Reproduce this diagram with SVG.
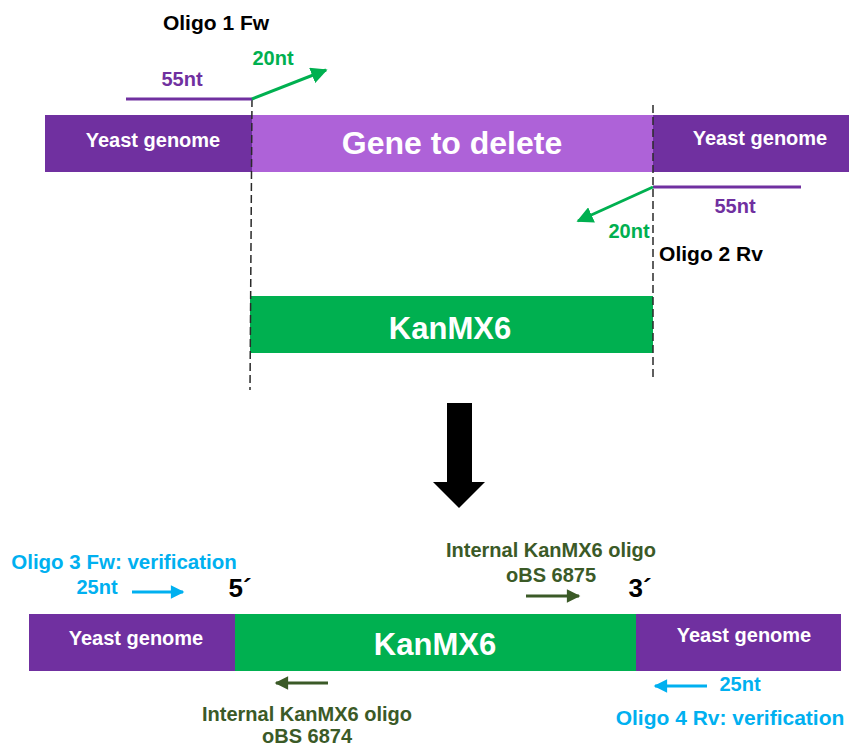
<svg xmlns="http://www.w3.org/2000/svg" width="849" height="747" viewBox="0 0 849 747">
<style>
text{font-family:"Liberation Sans",Arial,sans-serif;font-weight:bold}
.w{fill:#fff}
.lbl{font-size:20px}
.blk{fill:#000}
.pur{fill:#7030A0}
.grn{fill:#00B050}
.cyn{fill:#00B0F0}
.dg{fill:#3B5A27}
.dash{stroke:#2a2a2a;stroke-width:1.5;stroke-dasharray:8 4;fill:none}
</style>
<defs>
<marker id="ag" viewBox="0 0 10 10" refX="9" refY="5" markerWidth="5.5" markerHeight="5.5" orient="auto" markerUnits="strokeWidth"><path d="M0,0 L10,5 L0,10 z" fill="#00B050"/></marker>
<marker id="ac" viewBox="0 0 10 10" refX="9" refY="5" markerWidth="5" markerHeight="4.5" orient="auto" markerUnits="strokeWidth"><path d="M0,0 L10,5 L0,10 z" fill="#00B0F0"/></marker>
<marker id="ad" viewBox="0 0 10 10" refX="9" refY="5" markerWidth="5" markerHeight="4.5" orient="auto" markerUnits="strokeWidth"><path d="M0,0 L10,5 L0,10 z" fill="#3B5A27"/></marker>
</defs>

<g id="yeast-top-left"><rect x="45" y="115" width="207" height="57" fill="#7030A0"/><text class="w" x="153" y="147" font-size="20" text-anchor="middle">Yeast genome</text></g>
<g id="gene-to-delete"><rect x="252" y="115" width="401" height="57" fill="#AE62D8"/><text class="w" x="452" y="154" font-size="32" text-anchor="middle">Gene to delete</text></g>
<g id="yeast-top-right"><rect x="653" y="115" width="196" height="57" fill="#7030A0"/><text class="w" x="760" y="145" font-size="20" text-anchor="middle">Yeast genome</text></g>
<g id="kanmx6-top"><rect x="250" y="296" width="403" height="57" fill="#00B050"/><text class="w" x="450" y="339" font-size="31" text-anchor="middle">KanMX6</text></g>

<g id="connectors">
<line class="dash" x1="252" y1="99" x2="250" y2="390"/>
<line class="dash" x1="653" y1="105" x2="653" y2="380"/>
<line x1="126" y1="99" x2="252" y2="99" stroke="#7030A0" stroke-width="3"/>
<line x1="252" y1="99" x2="326" y2="70" stroke="#00B050" stroke-width="3" marker-end="url(#ag)"/>
<line x1="653" y1="187" x2="801" y2="187" stroke="#7030A0" stroke-width="3"/>
<line x1="653" y1="187" x2="578" y2="221" stroke="#00B050" stroke-width="3" marker-end="url(#ag)"/>
<path d="M447,403 H472 V482 H485 L459,508 L433,482 H447 Z" fill="#000"/>
<line x1="132" y1="592" x2="183" y2="592" stroke="#00B0F0" stroke-width="3" marker-end="url(#ac)"/>
<line x1="707" y1="686" x2="655" y2="686" stroke="#00B0F0" stroke-width="3" marker-end="url(#ac)"/>
<line x1="526" y1="596" x2="579" y2="596" stroke="#3B5A27" stroke-width="3" marker-end="url(#ad)"/>
<line x1="328" y1="683" x2="276" y2="683" stroke="#3B5A27" stroke-width="3" marker-end="url(#ad)"/>
</g>

<g id="oligo1"><text class="blk" x="216" y="30" font-size="21" text-anchor="middle">Oligo 1 Fw</text><text class="pur lbl" x="182" y="86" text-anchor="middle">55nt</text><text class="grn lbl" x="273" y="65" text-anchor="middle">20nt</text></g>
<g id="oligo2"><text class="pur lbl" x="735" y="213" text-anchor="middle">55nt</text><text class="grn lbl" x="629" y="238" text-anchor="middle">20nt</text><text class="blk" x="711" y="261" font-size="21" text-anchor="middle">Oligo 2 Rv</text></g>

<g id="yeast-bottom-left"><rect x="29" y="614" width="206" height="57" fill="#7030A0"/><text class="w" x="136" y="645" font-size="20" text-anchor="middle">Yeast genome</text></g>
<g id="kanmx6-bottom"><rect x="235" y="614" width="401" height="57" fill="#00B050"/><text class="w" x="435" y="655" font-size="31" text-anchor="middle">KanMX6</text></g>
<g id="yeast-bottom-right"><rect x="636" y="614" width="205" height="57" fill="#7030A0"/><text class="w" x="744" y="642" font-size="20" text-anchor="middle">Yeast genome</text></g>

<g id="oligo3"><text class="cyn" x="124" y="569" font-size="20.5" text-anchor="middle">Oligo 3 Fw: verification</text><text class="cyn lbl" x="97" y="594" text-anchor="middle">25nt</text></g>
<g id="end5"><text class="blk" x="240" y="597" font-size="26" text-anchor="middle">5´</text></g>
<g id="end3"><text class="blk" x="640" y="597" font-size="26" text-anchor="middle">3´</text></g>
<g id="oBS6875"><text class="dg lbl" x="551" y="557" text-anchor="middle">Internal KanMX6 oligo</text><text class="dg lbl" x="551" y="582" text-anchor="middle">oBS 6875</text></g>
<g id="oBS6874"><text class="dg lbl" x="307" y="721" text-anchor="middle">Internal KanMX6 oligo</text><text class="dg lbl" x="307" y="743" text-anchor="middle">oBS 6874</text></g>
<g id="oligo4"><text class="cyn lbl" x="740" y="691" text-anchor="middle">25nt</text><text class="cyn" x="730" y="725" font-size="21" text-anchor="middle">Oligo 4 Rv: verification</text></g>
</svg>
